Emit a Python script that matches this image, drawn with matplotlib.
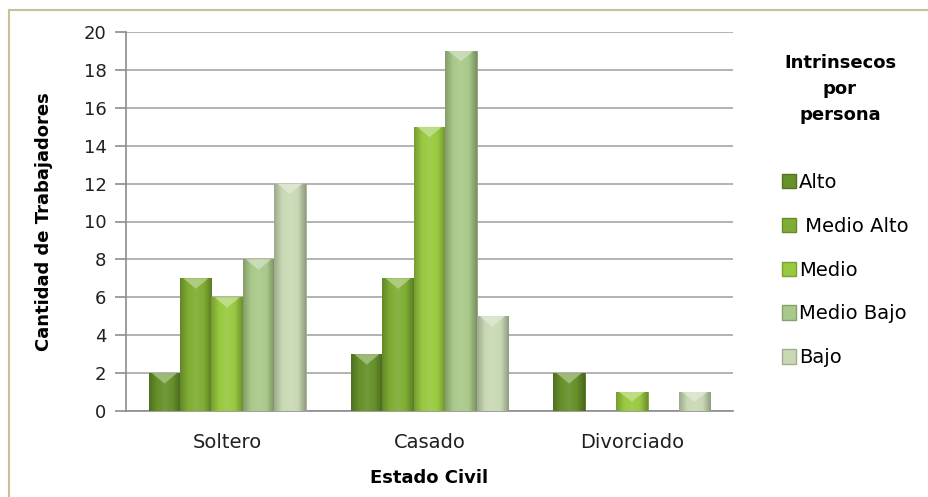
import numpy as np
import matplotlib.pyplot as plt
from matplotlib.colors import LinearSegmentedColormap, to_rgb
from matplotlib.lines import Line2D
from matplotlib.patches import Rectangle

categories = ["Soltero", "Casado", "Divorciado"]
series = ["Alto", " Medio Alto", "Medio", "Medio Bajo", "Bajo"]
alto = [2, 3, 2]
medio_alto = [7, 7, 0]
medio = [6, 15, 1]
medio_bajo = [8, 19, 0]
bajo = [12, 5, 1]
values = [alto, medio_alto, medio, medio_bajo, bajo]
colors = ["#66902a", "#7fad33", "#98c93f", "#a9c98a", "#c9d9b4"]
yticks = list(range(0, 21, 2))

plt.rcParams['font.family'] = ['DejaVu Sans']
W, H = 929, 497
fig = plt.figure(figsize=(W / 100, H / 100), dpi=100)
ax = fig.add_axes([126 / W, (H - 411) / H, (733 - 126) / W, (411 - 32) / H])

x = np.arange(len(categories))
bw = 0.155
n = len(series)

def shade(c, f):
    r = np.array(to_rgb(c))
    if f < 1:
        return tuple(r * f)
    return tuple(r + (1 - r) * (f - 1))

for i, (vals, c) in enumerate(zip(values, colors)):
    cmap = LinearSegmentedColormap.from_list(
        "g%d" % i, [shade(c, 0.78), shade(c, 1.0), shade(c, 1.08), shade(c, 1.0), shade(c, 0.72)])
    bars = ax.bar(x + (i - (n - 1) / 2) * bw, vals, bw, color=c, edgecolor=shade(c, 0.8),
                  linewidth=0.6, zorder=3)
    grad = np.linspace(0, 1, 64).reshape(1, -1)
    for b, v in zip(bars, vals):
        if v <= 0:
            b.set_visible(False)
            continue
        x0 = b.get_x()
        im = ax.imshow(grad, cmap=cmap, extent=(x0, x0 + bw, 0, v), aspect='auto',
                       zorder=3.5, interpolation='bilinear')
        im.set_clip_path(b)
        top = min(0.55, v * 0.5)
        ax.fill([x0 + bw * 0.1, x0 + bw * 0.9, x0 + bw * 0.5], [v, v, v - top],
                color=shade(c, 1.45), alpha=0.8, zorder=4, linewidth=0)

ax.set_xlim(-0.5, 2.5)
ax.set_ylim(0, 20)
ax.set_yticks(yticks)
ax.set_xticks(x)
ax.set_xticklabels(categories, fontsize=14, color='#202020')
ax.tick_params(axis='x', length=0, pad=16)
ax.tick_params(axis='y', length=8, color='#8c8c8c', width=1.2, labelsize=13, pad=6,
               labelcolor='#202020')
ax.grid(axis='y', color='#a6a6a6', linewidth=1.2, zorder=0)
for s in ['top', 'right']:
    ax.spines[s].set_visible(False)
for s in ['left', 'bottom']:
    ax.spines[s].set_color('#8c8c8c')
    ax.spines[s].set_linewidth(1.2)

ax.set_ylabel("Cantidad de Trabajadores", fontsize=13, fontweight='bold', labelpad=22)
ax.set_xlabel("Estado Civil", fontsize=13, fontweight='bold', labelpad=12)

handles = [Rectangle((0, 0), 1, 1, facecolor=c, edgecolor=shade(c, 0.8)) for c in colors]
leg = fig.legend(handles, series, loc='upper left', bbox_to_anchor=(772 / W, 1 - 163 / H),
                 frameon=False, fontsize=14, handlelength=0.75, handleheight=0.75,
                 handletextpad=0.15, labelspacing=1.28, borderpad=0)
fig.text(840 / W, 1 - 89 / H, "Intrinsecos\npor\npersona", ha='center', va='center',
         fontsize=13, fontweight='bold', linespacing=1.6)

fig.add_artist(Line2D([9 / W, 1], [1 - 10 / H, 1 - 10 / H], color='#c9c09a', linewidth=1.5))
fig.add_artist(Line2D([9 / W, 9 / W], [0, 1 - 10 / H], color='#c9c09a', linewidth=1.5))

fig.savefig("out.png", dpi=100)
